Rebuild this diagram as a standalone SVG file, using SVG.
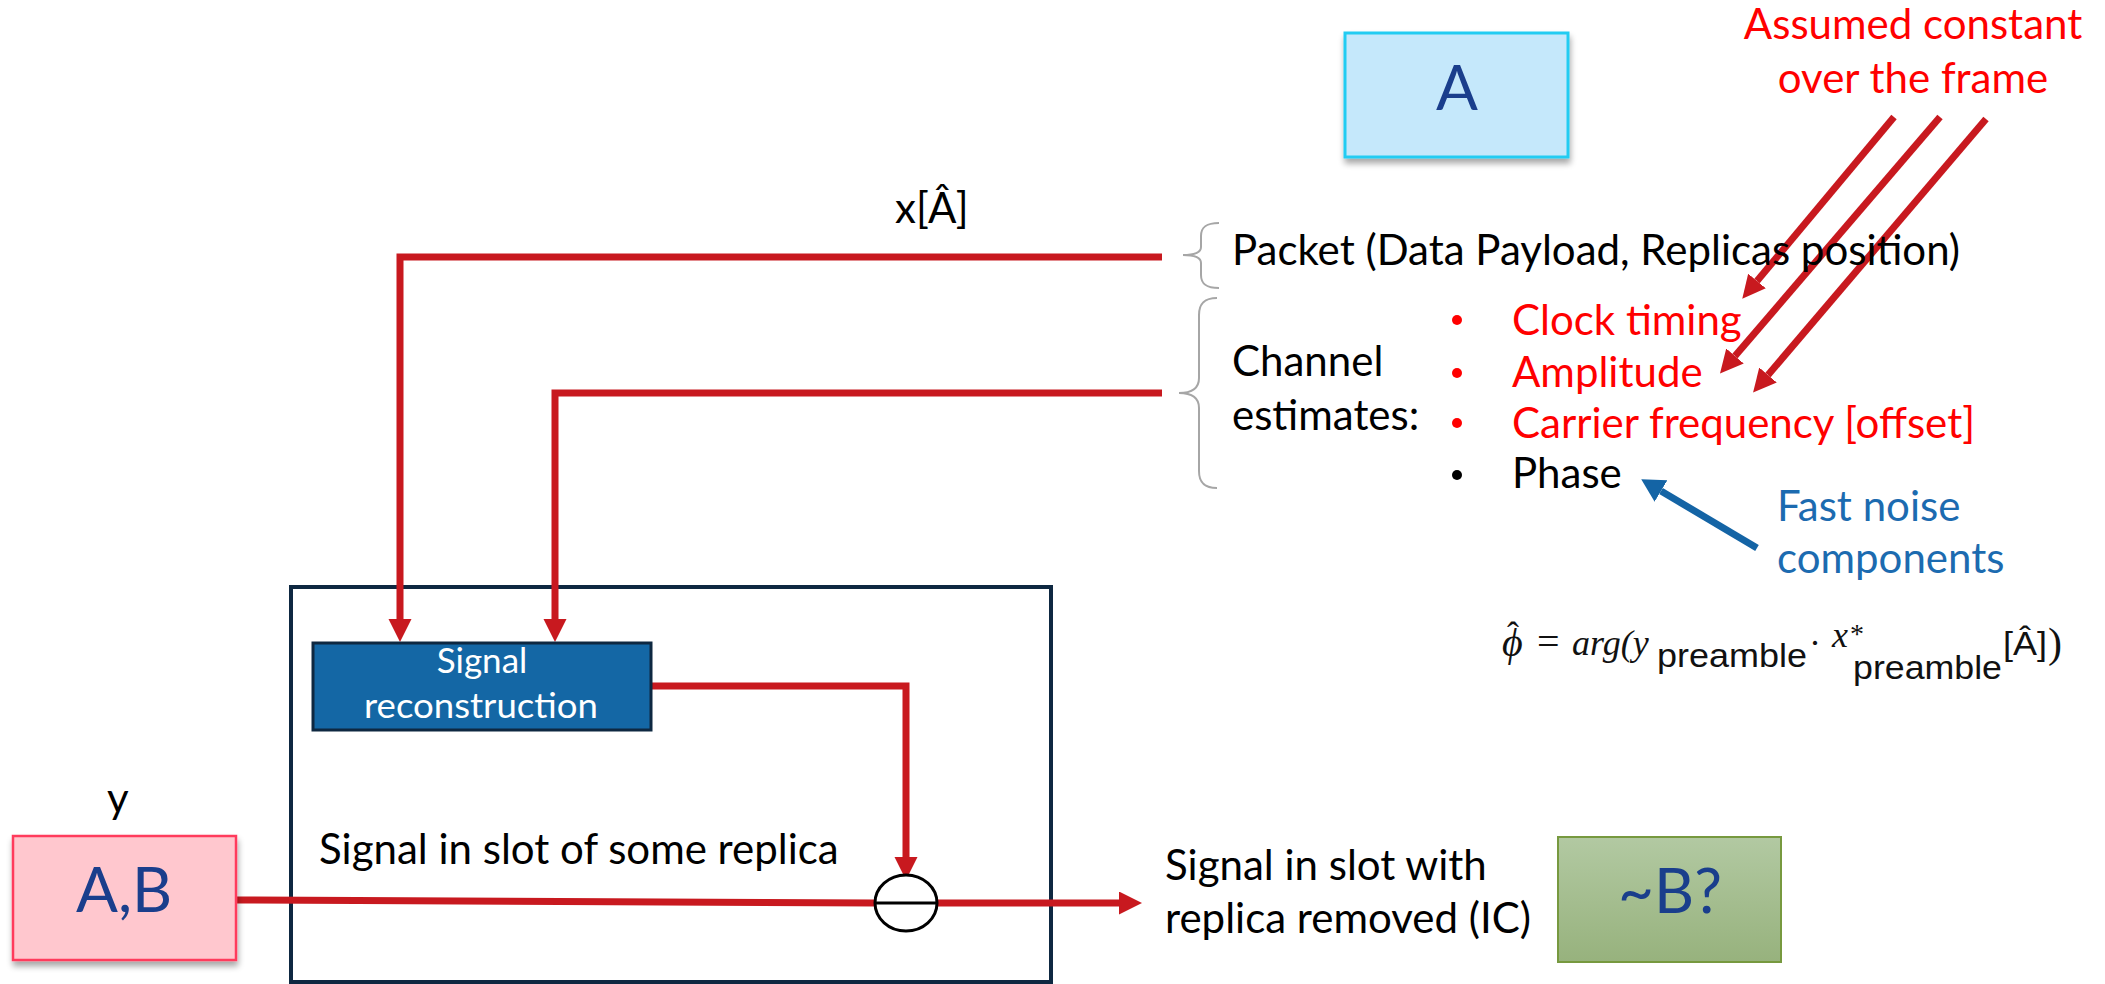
<svg xmlns="http://www.w3.org/2000/svg" width="2105" height="984" viewBox="0 0 2105 984">
<style>
.t{font-family:Lato,"Liberation Sans",sans-serif;font-size:42px;fill:#000}
.red{fill:#FF0000}
.blue{fill:#1C6BB0}
.big{font-family:Lato,"Liberation Sans",sans-serif;font-size:62px;fill:#1A3E8C;text-anchor:middle}
.wt{font-family:Lato,"Liberation Sans",sans-serif;font-size:35px;fill:#fff;text-anchor:middle}
.con{fill:none;stroke:#C8191F;stroke-width:7}
.brace{fill:none;stroke:#A6A6A6;stroke-width:2}
.fm{font-family:"Liberation Serif",serif;font-style:italic;font-size:36px;fill:#111}
.up{font-style:normal}
.san{font-family:"Liberation Sans",sans-serif;font-style:normal;font-size:33px}
</style>
<defs>
<marker id="ar" markerUnits="userSpaceOnUse" markerWidth="24" markerHeight="24" refX="0" refY="11.5" orient="auto" viewBox="0 0 24 24"><path d="M0,0 L23,11.5 L0,23 z" fill="#C8191F"/></marker>
<marker id="ab" markerUnits="userSpaceOnUse" markerWidth="24" markerHeight="26" refX="0" refY="12.5" orient="auto" viewBox="0 0 24 26"><path d="M0,0 L23,12.5 L0,25 z" fill="#1464A5"/></marker>
<filter id="sh" x="-10%" y="-10%" width="130%" height="140%"><feGaussianBlur in="SourceAlpha" stdDeviation="3"/><feOffset dx="1" dy="5"/><feComponentTransfer><feFuncA type="linear" slope="0.35"/></feComponentTransfer><feMerge><feMergeNode/><feMergeNode in="SourceGraphic"/></feMerge></filter>
<linearGradient id="gg" x1="0" y1="0" x2="0" y2="1"><stop offset="0" stop-color="#B2C9A2"/><stop offset="1" stop-color="#97B27D"/></linearGradient>
</defs>

<g id="outer-box"><rect x="291" y="587" width="760" height="395" fill="none" stroke="#0E2841" stroke-width="4"/></g>

<g id="connectors">
<path class="con" d="M1162,257 H400 V619" marker-end="url(#ar)"/>
<path class="con" d="M1162,393 H555 V619" marker-end="url(#ar)"/>
<path class="con" d="M651,686 H906 V857" marker-end="url(#ar)"/>
<path class="con" d="M236,900 L875,903"/>
<path class="con" d="M937,903 H1119" marker-end="url(#ar)"/>
<path class="con" stroke-width="6" d="M1894,117 L1757,281" marker-end="url(#ar)"/>
<path class="con" stroke-width="6" d="M1940,117 L1735,356" marker-end="url(#ar)"/>
<path class="con" stroke-width="6" d="M1986,119 L1768,375" marker-end="url(#ar)"/>
<path fill="none" stroke="#1464A5" stroke-width="7" d="M1757,548 L1661,491" marker-end="url(#ab)"/>
</g>

<g id="node-A"><rect x="1345" y="33" width="223" height="124" fill="#C5E8FB" stroke="#22CCF2" stroke-width="3" filter="url(#sh)"/><text class="big" x="1457" y="110">A</text></g>

<g id="note-assumed"><text class="t red" x="1913" y="39" text-anchor="middle">Assumed constant</text><text class="t red" x="1913" y="93" text-anchor="middle">over the frame</text></g>

<g id="label-x"><text class="t" x="895" y="223">x[Â]</text></g>

<g id="packet"><path class="brace" d="M1219,223 C1205,223 1201,228 1201,236 V247 C1201,253 1195,255 1183,255 C1195,255 1201,257 1201,263 V275 C1201,283 1205,288 1219,288"/><text class="t" x="1232" y="265">Packet (Data Payload, Replicas position)</text></g>

<g id="channel"><path class="brace" d="M1217,298 C1203,298 1199,305 1199,315 V378 C1199,388 1193,393 1179,393 C1193,393 1199,398 1199,408 V471 C1199,481 1203,488 1217,488"/>
<text class="t" x="1232" y="376">Channel</text><text class="t" x="1232" y="430">estimates:</text>
<circle cx="1457" cy="320" r="5" fill="#FF0000"/><circle cx="1457" cy="373" r="5" fill="#FF0000"/><circle cx="1457" cy="423" r="5" fill="#FF0000"/><circle cx="1457" cy="475" r="5" fill="#000"/>
<text class="t red" x="1512" y="335">Clock timing</text>
<text class="t red" x="1512" y="387">Amplitude</text>
<text class="t red" x="1512" y="438">Carrier frequency [offset]</text>
<text class="t" x="1512" y="488">Phase</text>
</g>

<g id="note-fast"><text class="t blue" x="1777" y="521">Fast noise</text><text class="t blue" x="1777" y="573">components</text></g>

<g id="formula">
<text class="fm"><tspan x="1502" y="656" font-size="40">ϕ</tspan><tspan class="up" x="1507" y="647" font-size="36">ˆ</tspan><tspan class="up" x="1537" y="655" font-size="40">=</tspan><tspan x="1572" y="655">arg(y</tspan><tspan class="san" x="1657" y="667" textLength="150" lengthAdjust="spacingAndGlyphs">preamble</tspan><tspan class="up" x="1809" y="655">·</tspan><tspan x="1832" y="647" font-size="36">x</tspan><tspan class="up" x="1850" y="643" font-size="28">*</tspan><tspan class="san" x="1853" y="679" textLength="149" lengthAdjust="spacingAndGlyphs">preamble</tspan><tspan class="san" x="2003" y="655" font-size="30" textLength="44" lengthAdjust="spacingAndGlyphs">[Â]</tspan><tspan class="up" x="2048" y="657" font-size="42">)</tspan></text>
</g>

<g id="node-recon"><rect x="313" y="643" width="338" height="87" fill="#1467A5" stroke="#0E2841" stroke-width="3"/><text class="wt" x="482" y="673">Signal</text><text class="wt" x="481" y="718" textLength="234" lengthAdjust="spacingAndGlyphs">reconstruction</text></g>

<g id="label-slot"><text class="t" x="319" y="864">Signal in slot of some replica</text></g>

<g id="subtract"><ellipse cx="906" cy="903" rx="31" ry="28" fill="#fff" stroke="#000" stroke-width="3"/><line x1="875" y1="903" x2="937" y2="903" stroke="#000" stroke-width="3"/></g>

<g id="node-AB"><text class="t" x="107" y="813">y</text><rect x="13" y="836" width="223" height="124" fill="#FFC7CE" stroke="#FF3B5C" stroke-width="2.5" filter="url(#sh)"/><text class="big" x="124" y="912" font-size="60">A,B</text></g>

<g id="label-out"><text class="t" x="1165" y="880">Signal in slot with</text><text class="t" x="1165" y="933">replica removed (IC)</text></g>

<g id="node-B"><rect x="1558" y="837" width="223" height="125" fill="url(#gg)" stroke="#77993F" stroke-width="2"/><text class="big" x="1670" y="913" font-size="60">~B?</text></g>
</svg>
